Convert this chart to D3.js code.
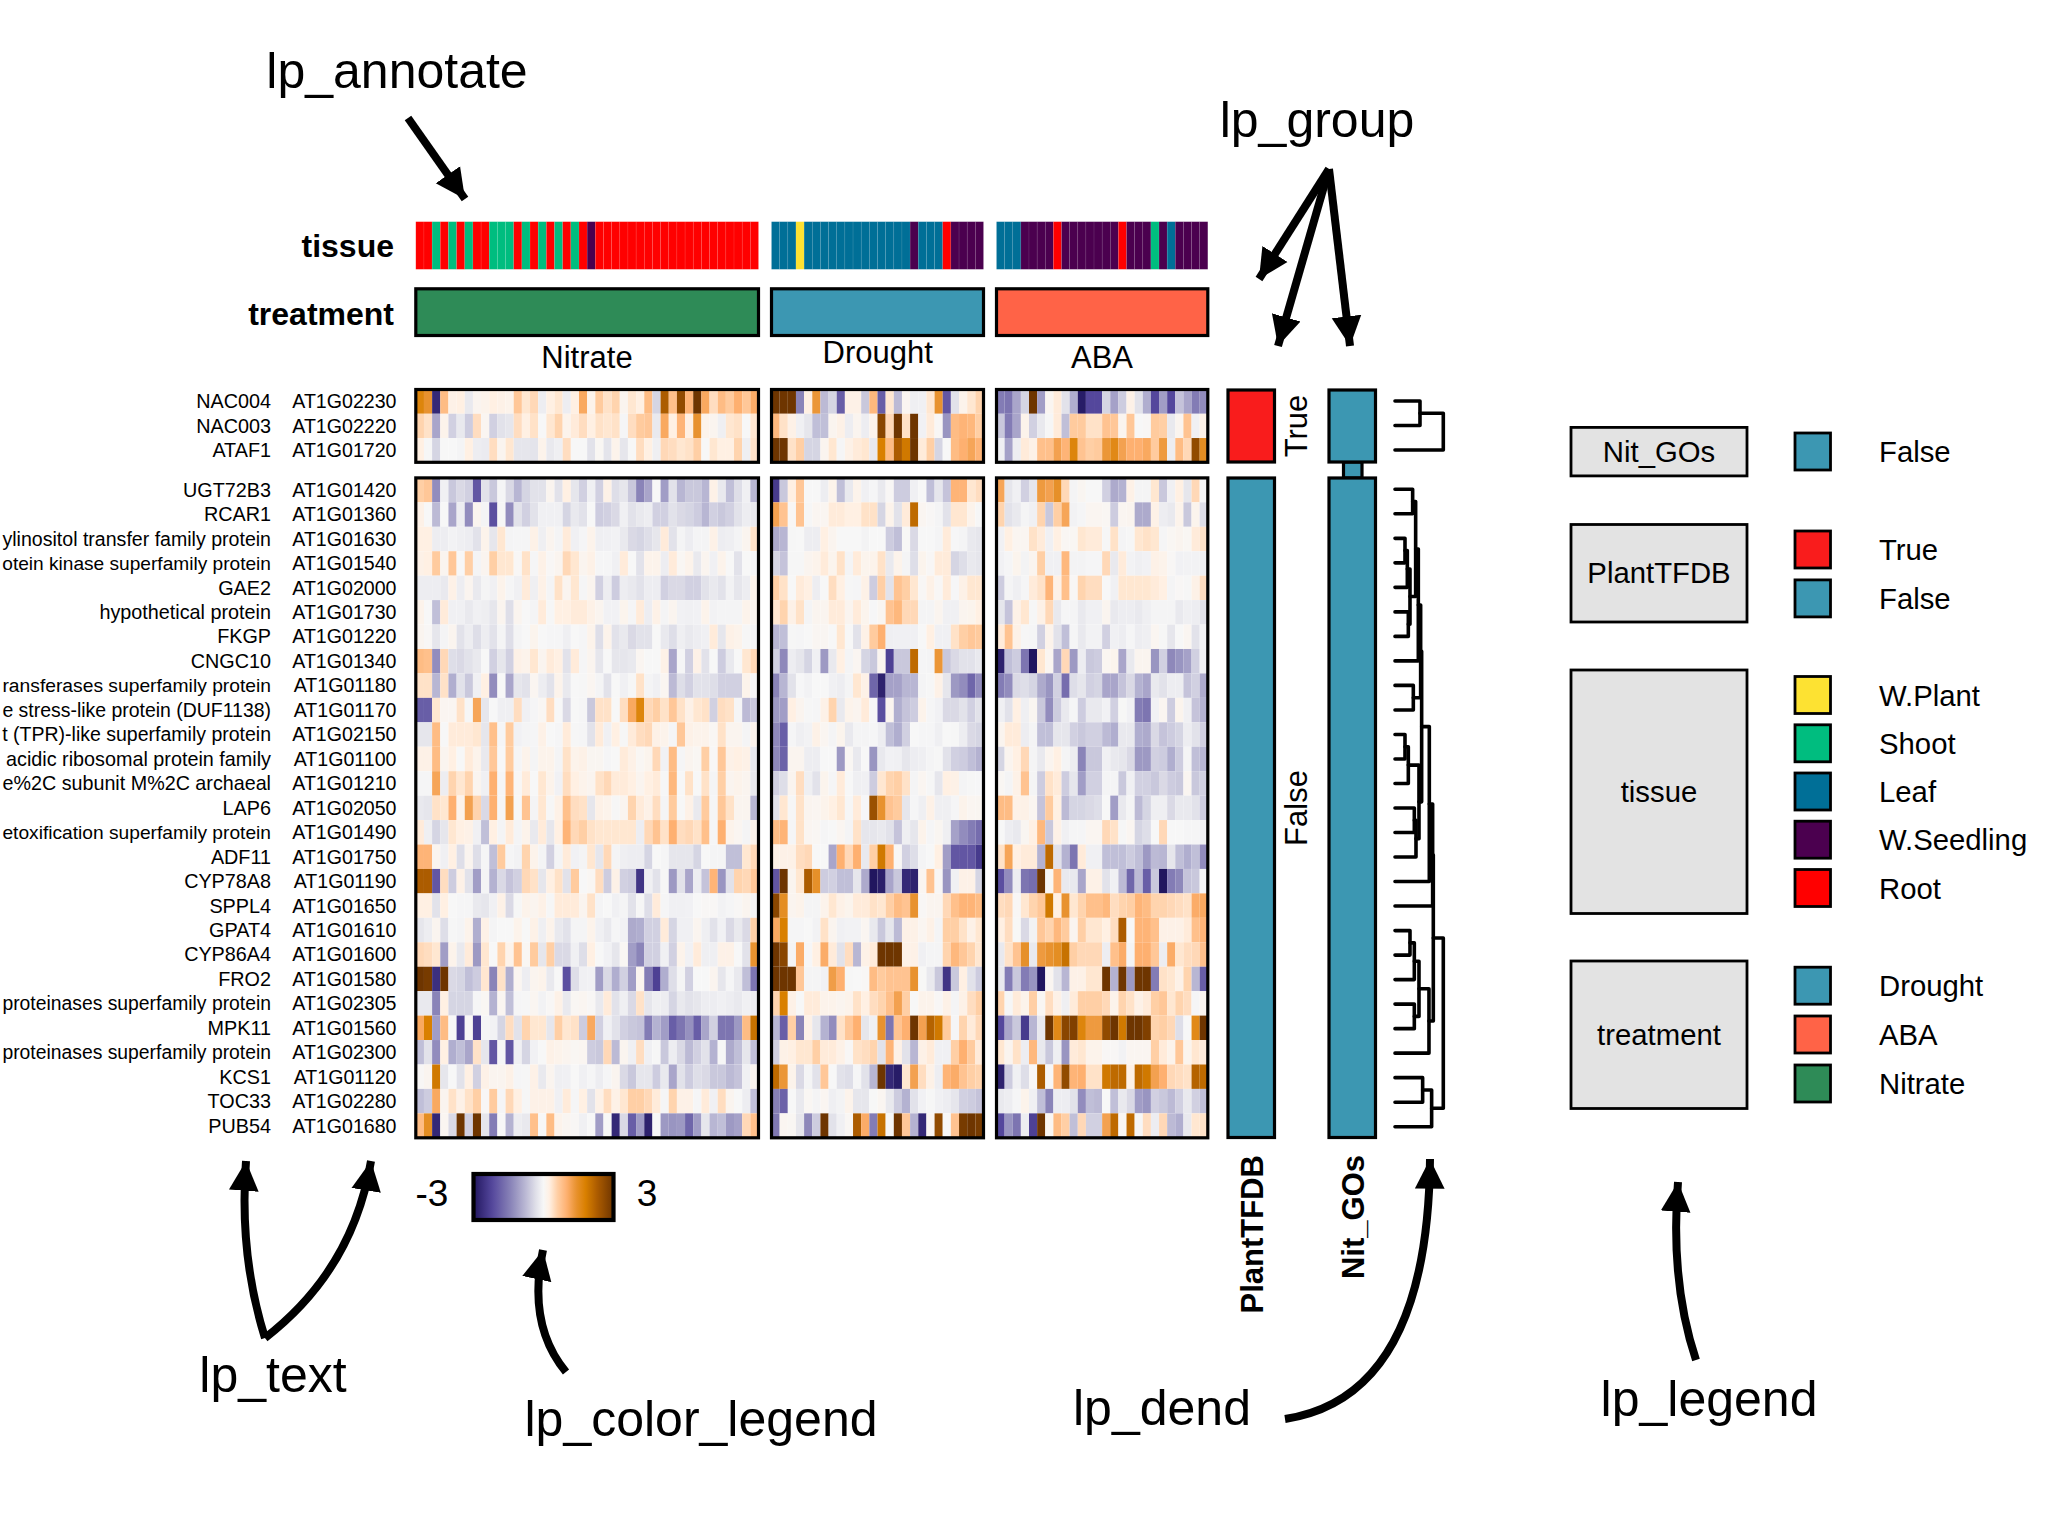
<!DOCTYPE html>
<html><head><meta charset="utf-8">
<script src="https://cdn.jsdelivr.net/npm/d3@7/dist/d3.min.js"></script>
<style>html,body{margin:0;padding:0;background:#fff}svg{display:block}text{font-family:"Liberation Sans",Arial,sans-serif;fill:#000}</style>
</head><body>
<script>
const treatments = ["Nitrate","Drought","ABA"];
const tissueNitrate = "RRSRSRSRRSSSRSRSRSRSRPRRRRRRRRRRRRRRRRRRRR".slice(0,42).split("");
const tissueDrought = "LLLYLLLLLLLLLLLLLPLLLRPPPP".split("");
const tissueABA = "LLLPPPPRPPPPPPPRPPPSPLPPPP".split("");
const namesTop = ["NAC004","NAC003","ATAF1"];
const idsTop = ["AT1G02230","AT1G02220","AT1G01720"];
const namesMain = ["UGT72B3","RCAR1","ylinositol transfer family protein","otein kinase superfamily protein","GAE2","hypothetical protein","FKGP","CNGC10","ransferases superfamily protein","e stress-like protein (DUF1138)","t (TPR)-like superfamily protein","acidic ribosomal protein family","e%2C subunit M%2C archaeal","LAP6","etoxification superfamily protein","ADF11","CYP78A8","SPPL4","GPAT4","CYP86A4","FRO2","proteinases superfamily protein","MPK11","proteinases superfamily protein","KCS1","TOC33","PUB54"];
const idsMain = ["AT1G01420","AT1G01360","AT1G01630","AT1G01540","AT1G02000","AT1G01730","AT1G01220","AT1G01340","AT1G01180","AT1G01170","AT1G02150","AT1G01100","AT1G01210","AT1G02050","AT1G01490","AT1G01750","AT1G01190","AT1G01650","AT1G01610","AT1G01600","AT1G01580","AT1G02305","AT1G01560","AT1G02300","AT1G01120","AT1G02280","AT1G01680"];

const nitrateTop = [
[1.7,1.4,-2.7,.85,.2,.25,-.2,.1,.15,.25,.2,.15,.7,.35,.5,-.15,.25,.35,-.15,.25,1.1,.15,.65,.4,.55,.1,.35,.25,.85,-.45,2.3,.8,2.6,.95,3,1.1,.45,.85,.65,1,.7,1.05],
[.55,.4,-1,.15,-.5,-.2,-.55,.45,.08,-.5,-.3,-.25,.45,.25,.4,0,.35,.55,.15,.3,.45,.25,.4,.35,.4,-.03,.45,.65,.7,-.2,1.1,.25,.95,.25,1.4,.15,.1,-.12,.35,.4,0,.35],
[.25,-.02,-.45,0,0,-.05,.25,-.15,-.17,.45,.1,.35,-.25,-.25,-.27,.15,-.2,-.12,.45,0,0,-.3,.05,-.27,.15,-.25,0,.45,.25,-.12,.5,.45,.35,.4,.6,0,.35,.25,.25,.55,-.12,.4]];
const droughtTop = [
[3,3,3,-1.4,.25,1.35,-.75,-.45,-1.9,.2,.2,-.6,.9,-1.9,.35,-.75,.08,-.12,-.1,.35,1.4,-2,-.3,.15,.35,.55],
[.9,.4,.2,-.1,-.25,-.7,-.7,.1,.2,-.15,.1,-.15,.15,2.7,.5,3,.4,3,-.08,.3,.02,-1.2,.85,.95,.9,.6],
[3,3,.4,.6,-.45,-.45,.1,.35,-.03,.2,.3,.35,-.2,1.8,.85,2.3,1.9,3,.3,.6,-.45,0,.85,1,1.15,.95]];
const abaTop = [
[-1.5,-1.6,-1,-.45,3,-1.1,.08,.3,-.3,-.9,-2.9,-2.2,-2.2,-.45,-1.05,-.55,.2,-.3,-.9,-2.2,-1.1,-2.2,-.65,-1,-1.5,-1.3],
[-.6,-1.5,-1,.15,-.5,-.2,-.02,.3,-.7,.65,.65,.4,.4,.75,.7,.1,.7,0,.02,.65,.6,-.2,.1,.75,-.1,.2],
[-.1,-1.05,-.15,.3,.2,.8,.8,1.2,.95,1.7,.75,.6,.65,1.35,1.6,1.2,1,1,1.1,.65,1.3,-.15,.85,.5,2.6,1.5]];

const nitrateMain = [
[.6,.7,-1.3,-.1,-.6,-.4,-.5,-2,-.3,-.6,-.03,-.4,-.8,-.45,-.3,-.3,.1,-.3,.25,-.25,-.5,-.1,-.5,.2,-.35,-.25,-.6,-1.4,-1,0,-1.1,-.3,-.8,-.6,-.6,-.8,.2,-.2,-.7,-.35,-.1,-.8],
[.2,0,-.75,0,-1,-.15,-1.3,.1,-.05,-2.1,-.02,-1.3,-.3,-.5,-.3,-.1,-.1,-.1,-.45,-.2,-.3,0,-.55,-.5,-.4,-.1,-.3,-.2,-.15,-.5,-.5,-.3,-.4,-.45,-.55,-.8,-.5,-.6,-.5,-.3,-.15,-.2],
[.25,.25,-.15,-.15,-.07,-.12,-.15,-.3,.15,-.25,.35,-.05,-.03,-.03,.2,-.12,.1,-.05,.3,-.1,-.03,.15,-.12,-.1,-.07,-.2,-.4,-.45,-.35,-.25,.3,-.3,-.05,-.15,-.05,-.05,.2,-.15,-.12,-.05,.1,.4],
[.2,.25,.65,.1,.7,0,.6,-.05,.1,.6,.35,.35,.03,.4,-.03,.2,.03,.1,.5,.35,.1,.2,-.03,-.03,-.1,.3,0,-.3,.15,.15,-.15,.3,.05,.15,-.2,.1,-.1,.15,0,-.3,0,-.05],
[-.15,-.15,-.15,-.2,.2,-.15,.1,-.2,-.05,-.1,.15,-.03,-.1,.3,-.12,.2,-.05,.4,.1,.35,-.03,.1,-.5,-.15,-.55,-.15,-.2,-.3,-.15,-.15,-.5,-.4,-.4,-.5,-.5,-.3,-.2,-.3,-.07,-.25,-.15,.15],
[.15,0,-.7,.3,-.1,-.1,-.2,-.1,-.13,-.25,.1,-.35,.1,0,-.05,.3,-.02,.25,.25,.3,.3,.2,.1,-.08,-.08,.12,-.03,.3,-.15,.2,-.05,.1,-.08,-.1,-.08,.15,-.07,-.05,-.05,-.05,.15,.07],
[.1,.03,-.25,-.05,.1,-.3,-.15,-.35,-.15,-.3,-.05,-.35,-.05,0,.12,0,-.03,-.03,-.12,0,-.03,.15,-.35,.15,-.3,-.2,-.4,-.3,-.3,0,-.2,-.35,-.12,-.2,-.15,-.1,.3,-.25,.2,.15,-.02,-.05],
[.85,.8,-1.3,.5,-.35,-.4,-.3,-.2,0,-.5,-.25,-.5,.2,.15,.35,.1,.3,.25,-.3,.3,-.03,.1,-.25,0,-.25,-.25,-.2,.08,0,0,.2,-1,-.03,-.5,.2,-.3,0,-.55,-.2,0,.35,.5],
[.4,.4,-.8,.4,-.9,-.3,-.6,-.1,.25,-1.3,0,-1,-.25,-.3,.08,-.15,-.3,.15,-.2,0,-.02,.08,-.05,-.3,0,-.1,-.02,.4,-.05,-.1,.08,-.75,-.35,-.5,-.3,-.3,-.35,-.5,-.5,-.5,.15,-.03],
[-1.9,-1.9,.35,.08,.08,.4,-.02,1.15,-.25,0,-.12,-.12,.45,-.1,-.03,.05,.45,0,-.4,0,-.03,-.6,.4,.4,0,.45,1.1,1.7,.5,.6,.4,.7,.4,.2,.35,.4,-.5,.45,.4,-.03,-.75,-.6],
[-.25,-.25,.85,0,.3,.3,.3,.35,-.25,.8,-.03,.65,-.08,-.05,-.03,.2,0,-.03,.3,-.02,-.03,-.3,.3,-.1,.25,-.02,.3,.45,.5,.2,.15,-.03,.7,.2,.15,.15,.05,.4,.1,.1,-.05,.15],
[.2,.2,.85,.1,.25,0,.3,.15,-.2,.7,0,.65,-.03,.15,-.05,.15,.15,-.05,.4,.15,.2,.07,.07,-.03,0,.3,.2,.05,.12,.5,-.08,.85,-.03,.1,.05,.6,.02,.7,.2,.25,.2,-.2],
[-.03,-.03,1.15,-.15,.55,.35,.55,.1,-.1,1,-.03,.95,.03,.3,0,.35,.15,-.08,.45,.25,.15,.1,.4,.5,.3,.3,.25,.1,.25,.3,-.02,.9,0,.4,0,.4,-.05,.6,.1,.15,.1,-.2],
[-.2,-.25,.4,.35,1,.15,1.2,.55,-.4,1,-.03,1.2,0,.75,-.05,.35,-.02,.2,.8,.45,.4,-.25,.2,.15,-.02,.1,.55,.3,.2,.45,-.05,.65,0,.2,-.2,.65,-.03,.7,.4,.1,.1,-.8],
[.3,-.12,-.45,-.25,.35,.25,.2,-.1,-.7,.25,-.05,.3,-.05,.15,-.2,.3,-.25,.25,.95,.5,.6,.4,.35,.35,.35,.35,.35,-.15,.5,.75,.4,1,.45,.5,.4,.8,-.03,1,.15,.08,-.05,.15],
[.95,.95,.1,-.1,.25,-.35,.1,-.35,-.03,-.7,.65,-.03,-.07,.55,.15,-.05,-.5,-.05,.3,-.08,-.05,.35,-.25,.5,-.05,-.12,-.15,-.15,-.45,0,-.03,-.25,-.25,-.25,-.45,0,-.05,-.05,-.7,-.7,.35,.5],
[2.3,2.3,-2,.45,-.55,.2,-.3,-1.1,-.05,-.85,-.4,-.65,-.5,.5,.4,-.25,.25,.4,-.3,.65,0,.05,.45,-.55,.2,-.5,-.55,-2.5,-.1,-.3,-.02,-1.15,-.3,-1,-.15,-.65,.95,-1.2,-.3,.55,.5,.7],
[.25,.25,-.3,.25,0,-.03,-.03,-.2,-.25,-.1,.2,-.4,-.02,.15,.1,.2,-.02,.3,.3,.3,.1,.4,-.05,0,-.1,-.05,-.3,-.02,-.35,.3,-.03,-.1,-.1,-.08,0,.02,.02,-.07,-.03,.03,.1,-.05],
[-.25,-.15,.1,-.35,-.02,-.05,.15,-.9,.2,-.05,0,0,.15,0,.2,-.12,.15,-.2,-.3,-.05,-.05,.15,-.1,-.2,-.03,-.08,-.95,-.9,-.5,-.5,.3,-.45,-.1,-.1,.1,-.12,-.3,-.08,-.4,-.2,-.4,.6],
[.5,.45,.35,-1.1,.15,-.2,.3,-1.15,.35,0,.55,.15,.75,.05,.65,-.25,.6,-.4,-.4,-.1,-.35,.25,0,-.08,-.25,.05,-1.1,-1.4,-.5,-.5,-.1,-.5,.15,-.08,.3,-.12,-.12,.2,.2,0,-.3,1.4],
[3,2.9,-2.6,3,-.4,-.45,-.7,-.55,.35,-1.4,.4,-.9,.08,-.15,.1,.15,-.2,0,-2.1,-.35,-.1,-.08,-1.1,-.4,-.9,-.5,-1.1,.1,-1.5,-2.3,-.9,-.35,-.05,-.5,0,0,.1,-.25,-.03,-.2,-.7,-1.6],
[-.2,-.2,-1.4,.25,-.45,-.45,-.45,-.03,.05,-.85,.08,-.7,-.03,-.02,.08,-.07,.03,.2,-.2,.05,.08,.03,-.2,.3,-.3,-.12,-.4,.4,-.25,-.12,-.15,-.45,-.2,-.3,-.25,-.15,-.15,-.1,-.15,-.2,-.1,-.15],
[1.1,1.8,-1.1,.85,0,-2.3,.03,-2.3,-.03,-.07,-.45,.45,-.3,.55,.35,.35,-.25,.6,.35,.4,-.55,1.1,-.5,-.1,-.3,-.5,-.6,-.65,-1.5,-.85,-1.1,-1.9,-1.6,-1.25,-1.9,-1,-.5,-1.6,-1.6,-1.15,.85,2],
[-.7,-.3,-1.3,.25,-.9,-.7,-1,.4,-.25,-2,-.03,-2,-.1,-.45,-.08,0,.2,.15,.1,.05,.08,-.55,-.6,.5,-.75,.1,-.1,.45,-.1,-.02,-.6,-.15,-.4,-.75,-.5,-.3,-.85,-.02,-.95,-.7,-.25,-.7],
[.02,.1,1.9,-.25,0,-.3,.25,-.5,.2,.1,.1,.2,-.03,-.02,.2,-.2,.1,-.12,-.1,0,-.1,-.03,-.15,-.03,.1,-.4,-.6,-.25,-.25,-.55,-.2,-1,-.3,-.55,-.35,-.4,-.6,-.6,-.75,-.65,-.1,.1],
[-.7,-.55,1.1,.1,.4,.2,.4,.6,.02,.65,-.03,.5,.25,-.02,.2,.2,.2,-.1,.3,-.03,.25,-.3,.2,.45,.2,.35,.6,.6,.5,.3,-.03,.55,.2,.2,-.03,.3,-.1,.45,.1,0,-.15,-.7],
[.85,1.5,-2.7,.08,-.4,3,-.5,3,-.25,-1.5,0,-.85,-.15,-.2,.8,0,.85,.15,.07,.03,-.1,0,-1.1,.01,-2.7,-.4,-1.9,-1.1,-2.8,0,-1.15,-1.2,-1.15,-1.8,-1.1,-.25,-.8,-.7,-1.15,-1.05,.5,.8]];

const droughtMain = [
[-2.4,-.6,.25,.7,0,0,-.15,.15,-.7,-.2,.15,-.1,-.03,-.2,.02,-.55,-.55,-.1,0,-.7,-.25,-.65,.95,.95,.35,.45],
[1.2,.75,.02,.75,-.02,.08,.08,.3,.3,.25,.25,.4,.4,-.45,.15,-.3,.3,2.1,.08,.02,-.05,-.3,.35,.35,.15,-.02],
[-.95,-.8,-.02,0,-.15,-.15,.25,.1,0,0,0,-.06,0,0,-.55,-.7,.01,-.4,0,0,-.05,.3,-.01,-.05,-.2,-.25],
[-.45,-.65,-.02,-.02,.1,.15,.3,.12,.4,-.05,.3,.12,.15,.4,-.2,.15,-.05,-.35,.12,.02,.3,.3,-.45,-.35,-.2,-.25],
[.6,.4,0,.3,.25,-.15,0,.45,.25,-.02,-.03,.2,-.55,.6,-.3,.75,.6,.35,.02,.2,.02,.3,-.01,.2,.35,.35],
[.35,.55,.2,.4,-.05,.1,.1,.3,.3,.1,.3,.12,-.01,.07,.75,.9,.5,.5,-.05,-.05,.1,-.1,-.1,.1,.12,.25],
[-.8,-.7,-.02,-.03,0,.06,.06,0,.35,0,-.3,.2,.65,1,-.12,-.1,-.1,-.1,0,.25,-.1,-.1,.4,.6,.7,.65],
[-.5,-1.35,-.15,-.25,-.45,-.1,-1.15,-.2,.25,-.05,.08,-.45,-.6,.1,-2.3,-.6,-.6,2.1,-.03,-.05,1.35,-.6,-.4,-.3,-.3,-.2],
[-1.4,-.8,-.3,-.01,-.07,0,0,-.1,-.15,-.05,.35,.2,-1.8,-2.8,-1.05,-1.05,-.8,-.8,-.05,-.02,.2,-.25,-1.15,-1.3,-1.8,-1.3],
[-1.15,-1.1,.25,.1,-.02,-.03,.2,.55,-.2,.15,.1,.3,-.01,-2.1,.1,-.9,-.65,-.55,.15,-.03,-.08,-.4,-.4,-.3,-.5,-.3],
[-1.35,-1.9,-.03,-.12,-.07,.2,.08,-.05,.12,-.2,-.05,-.05,-.03,-.15,-.7,-.9,-.5,0,-.03,-.03,-.12,0,-.02,-.15,-.4,-.45],
[-1.35,-1.85,.1,.1,-.15,-.15,0,0,-1.15,.05,-.2,0,-1.2,-.2,-.08,-.1,-.25,-.15,-.12,-.05,-.02,-.3,-.5,-.55,-.7,-.85],
[-.5,-.35,.1,.45,-.12,-.3,.12,-.03,.3,0,-.12,-.1,-.55,.35,.55,.6,.4,-.05,.08,-.02,-.25,.25,.2,-.05,-.02,-.01],
[-.3,.35,-.02,.4,.1,.08,.15,.25,.35,-.02,.3,-.01,2.5,1.4,.75,.65,-.25,-.03,-.12,.2,-.12,-.12,-.03,.15,.08,.07],
[.85,.95,-.03,.4,.08,.05,-.03,0,.08,-.05,.4,-.25,-.25,-.2,-.3,-.65,-.12,-.25,.15,-.03,.07,-.12,-1.05,-1.3,-1.5,-1.7],
[.2,.2,.2,.45,.5,0,0,-1,1,.5,1,-.2,.6,1.9,1,.02,-.5,-.35,-.05,0,.25,-1.1,-2,-2,-2,-2.4],
[-2,3,.1,.35,2.3,1.45,-.55,-.5,-.7,-.7,-.25,-.95,-3,-2.85,-1,-.6,-2.7,-2.8,.08,.75,.02,-1.2,-.1,.2,.2,-.45],
[2.7,1.5,.1,.15,-.04,-.04,.15,.35,.2,.12,.3,.3,.4,.35,.6,.85,.75,1.4,.02,.1,.1,.5,.8,.95,.95,.85],
[1.1,1.8,-.03,-.03,0,-.07,.4,.1,-.1,-.07,-.07,.08,-.2,-.6,-.25,-.75,.2,.2,.08,.2,-.05,.6,.6,.4,.2,.35],
[3,2.7,-.05,1.05,-.01,.25,1.05,.3,-.3,.45,-.8,.2,.3,3,3,3,.2,.2,-.1,-.05,-.05,.55,.9,.7,.55,.35],
[3,3,3,.7,-.05,-.05,-.08,1.25,1,-.02,0,.02,.85,.65,.75,.75,.75,1.4,.01,-.2,-.6,-2.5,-.6,.25,-.3,-.55],
[.55,1.8,.2,0,.3,.3,.15,.15,.1,.15,.4,.25,.45,.55,.8,1.2,.6,0,.15,.15,.02,.2,-.05,.2,.45,.6],
[-.8,-1.9,.6,-1.4,.2,-.25,-.85,-1.3,.4,.7,1,-.25,-.1,1.4,-1.6,.75,1,3,1.2,2.2,1.9,.65,-.03,.55,.3,.5],
[-.5,.2,.25,.35,.35,.6,.3,.3,.2,.02,.4,.45,.55,-.3,.95,.2,-.3,-.8,.2,.3,-.1,-.1,.6,1,.65,.3],
[2.1,1.35,.15,-.4,-.05,-.3,.7,0,-.3,-.35,-.03,-.3,-.8,3,-2.7,-2.9,.35,1.2,.45,.2,-.15,.95,1.05,.75,.6,.55],
[-1.45,-1.85,0,-.2,.05,-.05,.08,-.12,-.06,.15,-.25,-.25,0,.08,-.2,-.55,-.85,-.3,-.08,-.02,-.1,-.15,-.25,-.5,-.55,-.65],
[-1.55,.08,.05,-.25,-1.35,-.55,3,-.3,-.1,.05,2.3,1.05,-1.5,2,-.02,3,.7,-.85,-2.7,.08,2.6,0,.75,2.9,3,2.9]];

const abaMain = [
[1.15,-.25,-.1,-.5,-.25,1.3,1.2,1.45,.5,-.05,.07,0,0,-.5,-.95,-.85,.2,-.05,-.04,.35,-.6,-.1,.25,-.25,.5,-.03],
[.55,-.3,-.2,-.05,-.1,.55,-.6,.6,1.15,-.07,-.03,.08,.08,.05,-.55,.08,.1,-.95,-.95,.2,-.15,-.2,.15,-.6,.12,-.35],
[-.08,.25,.08,.08,.4,.3,-.1,.25,.05,.05,.35,.3,.3,-.02,.4,-.05,-.02,.35,.4,.35,-.03,.05,.1,.05,.3,.4],
[-.08,-.03,.12,-.06,.1,.6,-.1,-.1,.9,-.06,-.06,-.03,-.03,.5,-.2,.3,-.07,-.12,-.08,.2,.15,.02,-.08,-.07,-.07,-.12],
[-.55,-.05,-.12,-.03,.3,.4,.95,.2,.8,.03,.55,.45,.45,0,-.1,.35,.35,.35,.35,.3,.25,-.05,.03,-.02,.2,.45],
[-.25,-.65,.2,.35,-.02,.2,.5,-.2,-.03,-.05,-.2,-.1,-.1,.1,-.2,-.15,-.15,-.2,-.12,-.05,-.05,-.05,-.2,-.12,-.15,-.3],
[.3,.75,.2,-.02,-.03,-.5,.15,-.3,-.7,-.03,-.2,-.07,-.07,-.5,-.1,-.15,-.03,-.15,-.12,.08,-.02,-.25,0,.08,-.3,-.08],
[-2.8,-.7,-.55,-1.6,-3,.35,.08,-1,.5,-1.15,-.15,-.6,-.55,.08,.12,-1,-.2,.1,.1,-1.2,-.5,-1.35,-1.2,-1.05,-.5,-.1],
[-1.5,-1.3,-.4,-.35,-.45,-.95,-1.2,-.5,-1.7,-.35,-.25,-.5,-.45,-1,-1,-.65,-.4,-.85,-1,-.2,-.3,-.15,-.15,-.65,-.5,-.95],
[-.1,-.3,.25,-.12,.07,-.6,-1.3,-.55,-.2,-.03,-.55,-.2,-.2,-.08,-.5,.01,-.08,-1.5,-1.6,-.08,.08,-.55,.12,-.1,-.65,-.85],
[.1,.3,.3,-.15,-.04,-.7,-.7,-.25,-.25,-.5,-.6,-.5,-.5,-.75,-.9,-.2,-.2,-.9,-.95,-.4,-.65,-.55,-.45,-.15,-.3,-.5],
[-.45,.1,.25,.5,-.04,-.2,.1,.25,-.05,-.15,-1.4,-.6,-.6,-.1,-.2,-.25,-.4,-1.15,-1.15,-.5,-.55,-.9,-.55,-.05,-.7,-.8],
[.05,-.05,.2,.75,-.05,-.55,.4,.3,-.55,-.25,-1.1,-.5,-.5,-.05,-.05,-.6,-.1,-.5,-.5,-.6,-.4,-.55,-.6,.08,-.6,-.5],
[.85,.85,.2,.2,.08,-.65,.65,.25,-.75,-.45,-.45,-.4,-.35,0,-1.1,-.2,-.05,-.75,-.45,-.12,-.12,-.4,-.2,-.2,-.3,-.55],
[0,-.15,-.2,.07,.25,.9,-.6,.2,-.1,-.03,-.03,.08,.08,.5,.4,-.02,.08,-.45,-.35,0,.5,0,0,-.03,-.03,-.1],
[.4,1.15,.25,.3,.3,-.85,2.1,-.3,-.85,-1.6,.3,-.1,-.1,-.7,-.7,-.7,-.55,-.7,-1.15,-.75,-.8,-.25,-.7,-.9,-.7,-1.3],
[-2.1,-1.3,-.15,-1.6,-1.7,3,.04,.95,-.2,-.2,-1,.2,.2,-.3,-.1,-.75,-1.8,-.75,-1.9,-.6,-3,-1.5,-1.35,-.65,-.6,-.03],
[.45,.5,.02,.35,.55,.7,1.9,.25,1.4,.35,.55,.8,.8,.9,.45,.55,.6,.95,.85,.55,.55,.5,.45,.4,1.05,1.1],
[.25,.45,.01,-.4,-.07,.7,.55,.9,.65,.1,.6,.35,.35,.25,.45,2.3,0,.95,.95,.8,.2,.2,.2,.3,.8,.95],
[-.2,.4,.75,1.45,-.2,1.3,1.4,1.5,2,.6,.5,.5,.5,-.15,.8,1.05,-.05,1,1,.7,-.15,1.05,.35,.45,.5,.8],
[-.2,-1.5,-.6,-1.5,-1.2,-3,.08,-.3,-.8,.2,.2,.35,.35,3,-.85,3,-1.15,3,3,-1.5,.4,.35,.2,.55,-.8,-1.9],
[.55,-.02,.3,.15,.6,.05,.45,.2,-.12,.3,.6,.6,.6,.5,.15,.55,.4,.2,.3,.6,.7,.35,.55,.45,-.03,.1],
[-2.2,-1,-.6,-2.4,-.8,-.2,3,1.6,2.7,2.8,1.7,1.3,1.3,2.6,3,1.9,3,3,2.8,.55,.6,.5,-.35,0,1.6,3],
[.35,.1,.4,-.15,.9,-.2,-.6,-.12,-1.2,.3,.35,.15,.15,.02,.02,-.07,.08,.08,.08,.6,.3,.15,.7,.12,.35,.3],
[-2.8,-.55,-.1,-.35,.02,2.3,-.01,.95,2.6,.95,1,.4,.4,1.9,2.1,2.1,.2,2.1,1.9,1.2,1,.5,.45,.4,2.2,2.1],
[-.2,-.15,-.03,.15,-.1,-.7,-1.4,-.15,-.15,-.3,-1.3,-.7,-.75,0,-.7,-.2,-.4,-1.1,-1.2,-.5,-.6,-.75,-.5,-.2,-.5,-.7],
[-2.2,-1.2,-1.6,-.15,-2.3,3,.05,.85,.6,-.7,.5,-.5,-.5,1.2,2.1,.05,2.1,-.02,.45,-.15,.5,-.75,-.9,-.2,.35,.4]];

// hclust-style merges: negative = leaf, positive = earlier merge (1-based); third = height
const mergesTop = [[-1,-2,.75],[1,-3,1.45]];
const mergesMain = [[-1,-2,.53],[-3,-4,.3],[2,-5,.37],[-6,-7,.4],[3,4,.45],[1,5,.62],[6,-8,.7],[-9,-10,.55],[7,8,.77],[-11,-12,.3],[10,-13,.4],[-14,-15,.58],[12,-16,.63],[11,13,.72],[9,14,.8],[15,-17,1.03],[16,-18,1.13],[-19,-20,.45],[18,-21,.58],[-22,-23,.58],[19,20,.72],[21,-24,1.02],[17,22,1.15],[-25,-26,.83],[24,-27,1.1],[23,25,1.45]];

const legendGroups = [
 {title:"Nit_GOs",items:[["False","#3c97b2"]]},
 {title:"PlantTFDB",items:[["True","#f91c1c"],["False","#3c97b2"]]},
 {title:"tissue",items:[["W.Plant","#fde232"],["Shoot","#00bd7f"],["Leaf","#006f97"],["W.Seedling","#4b004f"],["Root","#ff0000"]]},
 {title:"treatment",items:[["Drought","#3c97b2"],["ABA","#ff6347"],["Nitrate","#2e8b57"]]}];

const tissueColor = {R:"#ff0000",S:"#00bd7f",L:"#006f97",P:"#4b004f",Y:"#fde232"};
const treatColor = {Nitrate:"#2e8b57",Drought:"#3c97b2",ABA:"#ff6347"};
const color = d3.scaleLinear()
  .domain([-3,-2.2,-1.4,-.8,-.3,0,.25,.6,1,1.4,1.8,2.3,3])
  .range(["#21165f","#54479c","#8a84b8","#b8b6d3","#e2e2ea","#f7f7f7","#fff0e3","#ffcfa5","#feb070","#e8922f","#d98000","#ac5c00","#6e3500"])
  .clamp(true);

const svg = d3.select("body").append("svg").attr("width",2048).attr("height",1535).attr("viewBox","0 0 2048 1535");

const panels = [
 {name:"Nitrate",x0:415.8,x1:758.5,top:nitrateTop,main:nitrateMain,tissue:tissueNitrate,labelX:587,labelY:367.7},
 {name:"Drought",x0:771.5,x1:983.5,top:droughtTop,main:droughtMain,tissue:tissueDrought,labelX:877.7,labelY:363},
 {name:"ABA",x0:996.5,x1:1207.8,top:abaTop,main:abaMain,tissue:tissueABA,labelX:1102,labelY:367.7}];

const yTop = d3.scaleBand().domain(d3.range(3)).range([389.5,462.3]);
const yMain = d3.scaleBand().domain(d3.range(27)).range([477.9,1137.8]);

panels.forEach(p=>{
  const x = d3.scaleBand().domain(d3.range(p.tissue.length)).range([p.x0,p.x1]);
  const g = svg.append("g");
  g.selectAll(".t").data(p.tissue).join("rect")
   .attr("x",(d,i)=>x(i)).attr("y",221.7).attr("width",x.bandwidth()).attr("height",47.6)
   .attr("fill",d=>tissueColor[d]).attr("stroke","#fff").attr("stroke-opacity",.12).attr("stroke-width",.6);
  g.append("rect").attr("x",p.x0).attr("y",288.8).attr("width",p.x1-p.x0).attr("height",46.7)
   .attr("fill",treatColor[p.name]).attr("stroke","#000").attr("stroke-width",3.2);
  g.append("text").attr("x",p.labelX).attr("y",p.labelY).attr("text-anchor","middle").attr("font-size",31).text(p.name);
  [[p.top,yTop],[p.main,yMain]].forEach(([rows,y])=>{
    rows.forEach((row,r)=>{
      g.append("g").selectAll("rect").data(row).join("rect")
       .attr("x",(d,i)=>x(i)).attr("y",y(r)).attr("width",x.bandwidth()).attr("height",y.bandwidth())
       .attr("fill",d=>color(d));
    });
    g.append("rect").attr("x",p.x0).attr("y",y.range()[0]).attr("width",p.x1-p.x0).attr("height",y.range()[1]-y.range()[0])
     .attr("fill","none").attr("stroke","#000").attr("stroke-width",3.2);
  });
});

function label(parent,x,y,txt,size,anchor){
  return parent.append("text").attr("x",x).attr("y",y).attr("text-anchor",anchor).attr("font-size",size).text(txt);
}
// long names keep their left end inside the page
function nameLabel(parent,y,txt){
  const t=label(parent,271,y,txt,19.8,"end");
  const w=t.node().getComputedTextLength();
  if(w>268.5) t.attr("font-size",19.8*268.5/w);
}
const gl = svg.append("g");
const baseTop = d3.scaleLinear().domain([0,2]).range([408.3,457.3]);
const baseMain = d3.scaleLinear().domain([0,26]).range([496.7,1132.7]);
namesTop.forEach((n,i)=>{nameLabel(gl,baseTop(i),n);label(gl,396.5,baseTop(i),idsTop[i],19.6,"end");});
namesMain.forEach((n,i)=>{nameLabel(gl,baseMain(i),n);label(gl,396.5,baseMain(i),idsMain[i],19.6,"end");});

svg.append("text").attr("x",394).attr("y",257).attr("text-anchor","end").attr("font-size",32).attr("font-weight","bold").text("tissue");
svg.append("text").attr("x",394).attr("y",324.5).attr("text-anchor","end").attr("font-size",32).attr("font-weight","bold").text("treatment");

// group bars
const gb = svg.append("g").attr("stroke","#000").attr("stroke-width",3.2);
gb.append("rect").attr("x",1228).attr("y",390).attr("width",46.5).attr("height",72).attr("fill","#f91c1c");
gb.append("rect").attr("x",1228).attr("y",478).attr("width",46.5).attr("height",659.5).attr("fill","#3c97b2");
gb.append("rect").attr("x",1343.5).attr("y",462).attr("width",18.5).attr("height",16).attr("fill","#3c97b2");
gb.append("rect").attr("x",1329).attr("y",390).attr("width",46.5).attr("height",72).attr("fill","#3c97b2");
gb.append("rect").attr("x",1329).attr("y",478).attr("width",46.5).attr("height",659.5).attr("fill","#3c97b2");

function vText(x,y,txt,anchor,bold){
  svg.append("text").attr("transform",`translate(${x},${y}) rotate(-90)`).attr("text-anchor",anchor)
    .attr("font-size",31).attr("font-weight",bold?"bold":"normal").text(txt);
}
vText(1307,426,"True","middle");
vText(1307,808,"False","middle");
vText(1263,1155,"PlantTFDB","end",true);
vText(1363.5,1155,"Nit_GOs","end",true);

// dendrograms
const hx = d3.scaleLinear().domain([0,1.45]).range([1395,1443.3]);
function drawDend(merges,leafY){
  const nodes=[]; const g=svg.append("g").attr("fill","none").attr("stroke","#000").attr("stroke-width",3.6).attr("stroke-linecap","round").attr("stroke-linejoin","round");
  const get=i=>i<0?{y:leafY(-i-1),h:0}:nodes[i-1];
  merges.forEach(([a,b,h])=>{
    const A=get(a),B=get(b);
    const p=d3.path();
    p.moveTo(hx(A.h),A.y);p.lineTo(hx(h),A.y);p.lineTo(hx(h),B.y);p.lineTo(hx(B.h),B.y);
    g.append("path").attr("d",p.toString());
    nodes.push({y:(A.y+B.y)/2,h});
  });
}
drawDend(mergesTop,d3.scaleLinear().domain([0,2]).range([401,450]));
drawDend(mergesMain,d3.scaleLinear().domain([0,26]).range([489.3,1126.7]));

// color legend
const defs=svg.append("defs");
const grad=defs.append("linearGradient").attr("id","cbar");
d3.range(0,1.0001,.02).forEach(t=>grad.append("stop").attr("offset",t).attr("stop-color",color(-3+6*t)));
svg.append("rect").attr("x",473.5).attr("y",1174).attr("width",140).attr("height",46).attr("fill","url(#cbar)").attr("stroke","#000").attr("stroke-width",4.2);
svg.append("text").attr("x",432).attr("y",1206).attr("text-anchor","middle").attr("font-size",37).text("-3");
svg.append("text").attr("x",647).attr("y",1206).attr("text-anchor","middle").attr("font-size",37).text("3");

// legend
const swTops=[[433],[531,579.9],[676.5,724.8,773,821.2,869.5],[967.2,1016,1065]];
const boxes=[[427.4,475.9],[524.5,622],[670,913.5],[961,1108.5]];
const gLeg=svg.append("g");
legendGroups.forEach((g,i)=>{
  const [y0,y1]=boxes[i];
  gLeg.append("rect").attr("x",1571).attr("y",y0).attr("width",176).attr("height",y1-y0).attr("fill","#e3e3e3").attr("stroke","#000").attr("stroke-width",2.8);
  label(gLeg,1659,(y0+y1)/2+10,g.title,29.3,"middle");
  g.items.forEach(([lab,col],j)=>{
    const t=swTops[i][j];
    gLeg.append("rect").attr("x",1795).attr("y",t).attr("width",35.5).attr("height",37).attr("fill",col).attr("stroke","#000").attr("stroke-width",2.8);
    label(gLeg,1879,t+29,lab,29.3,"start");
  });
});

// annotation labels and arrows
const anno=[["lp_annotate",397,88],["lp_group",1317,137],["lp_text",273,1391.5],["lp_color_legend",701,1435.5],["lp_dend",1162,1425],["lp_legend",1709,1416]];
anno.forEach(([t,x,y])=>svg.append("text").attr("x",x).attr("y",y).attr("text-anchor","middle").attr("font-size",50).text(t));
defs.append("marker").attr("id","ah").attr("markerUnits","userSpaceOnUse").attr("markerWidth",32).attr("markerHeight",32)
  .attr("viewBox","0 -14 28 28").attr("refX",26).attr("refY",0).attr("orient","auto")
  .append("path").attr("d","M0,-13L26,0L0,13Z").attr("fill","#000");
const arrows=[
 "M408,118L465,199",
 "M1329,169L1259,279","M1329,169L1278,346","M1329,169L1350,346",
 "M265,1338Q239,1255 246,1161","M265,1338Q353,1270 371,1161",
 "M566,1372Q527,1325 543,1250",
 "M1285,1419Q1428,1397 1430,1159",
 "M1696,1360Q1670,1282 1678,1182"].map(String);
svg.append("g").selectAll("path").data(arrows).join("path").attr("d",d=>d).attr("fill","none").attr("stroke","#000")
  .attr("stroke-width",8).attr("marker-end","url(#ah)");
</script>
</body></html>
